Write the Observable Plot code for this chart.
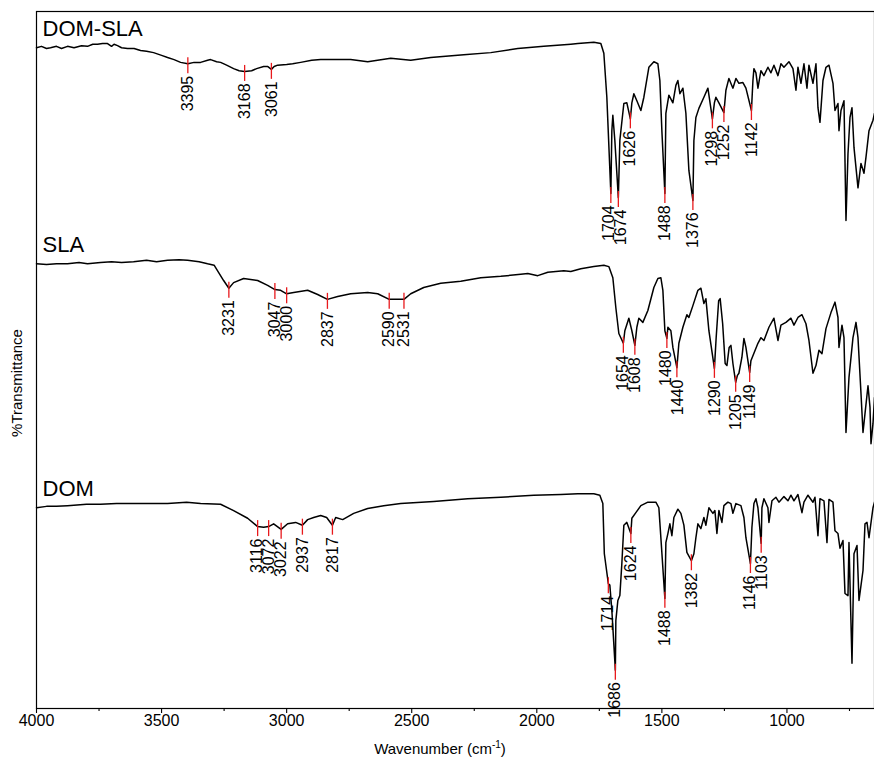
<!DOCTYPE html>
<html>
<head>
<meta charset="utf-8">
<script src="https://cdn.jsdelivr.net/npm/d3@7"></script>
<script src="https://cdn.jsdelivr.net/npm/@observablehq/plot@0.6"></script>
<style>
  body { margin: 0; background: #fff; }
</style>
</head>
<body>
<div id="chart"></div>
<script>
// FTIR spectra, stacked: [wavenumber (cm-1), transmittance (stacked %T units)]
const seriesNames = ["DOM-SLA", "SLA", "DOM"];

const domSlaSpectrum = [[4000,94.8],[3980,95.0],[3960,94.7],[3944,94.8],[3920,95.0],[3900,94.7],[3876,95.0],[3850,94.8],[3820,95.1],[3796,95.0],[3775,95.3],[3756,95.3],[3736,95.4],[3716,95.4],[3700,95.0],[3690,95.3],[3676,95.1],[3660,94.8],[3636,94.7],[3610,94.7],[3584,94.4],[3560,94.3],[3532,94.1],[3500,93.7],[3476,93.4],[3450,93.1],[3424,92.7],[3395,92.5],[3370,92.7],[3344,92.7],[3316,93.0],[3304,93.1],[3280,92.8],[3264,92.7],[3240,92.3],[3212,91.8],[3190,91.5],[3168,91.4],[3140,91.5],[3120,91.8],[3092,92.1],[3075,92.1],[3061,91.7],[3050,92.1],[3036,92.3],[3000,92.4],[2976,92.5],[2944,92.7],[2900,93.0],[2864,93.1],[2820,93.1],[2744,93.1],[2676,92.8],[2584,93.3],[2504,93.0],[2424,93.4],[2292,93.8],[2184,94.1],[2076,94.7],[1972,95.0],[1864,95.3],[1836,95.4],[1772,95.6],[1744,95.4],[1732,94.0],[1720,87.7],[1704,73.9],[1700,82.9],[1696,85.1],[1688,81.5],[1674,73.3],[1668,81.5],[1652,86.8],[1640,86.9],[1626,84.6],[1620,86.9],[1612,88.2],[1600,87.2],[1584,85.8],[1572,87.7],[1552,92.0],[1532,92.8],[1516,92.5],[1508,90.1],[1500,82.9],[1488,73.9],[1484,85.4],[1472,88.0],[1456,86.9],[1444,89.4],[1436,90.1],[1428,88.2],[1416,89.0],[1404,85.4],[1392,77.2],[1376,72.9],[1372,81.5],[1364,84.8],[1352,86.1],[1332,87.7],[1316,89.0],[1298,84.6],[1290,86.9],[1284,87.7],[1272,86.9],[1252,85.5],[1244,88.7],[1232,90.4],[1216,89.0],[1204,90.4],[1192,89.7],[1176,89.8],[1164,89.0],[1142,85.8],[1136,90.1],[1132,91.8],[1124,91.2],[1116,89.0],[1104,91.5],[1092,90.8],[1076,92.0],[1064,91.2],[1052,92.3],[1036,90.8],[1024,92.5],[1012,92.0],[992,92.8],[976,91.8],[964,88.7],[956,92.0],[944,89.7],[932,92.5],[920,89.0],[912,92.3],[896,89.7],[884,92.5],[876,86.2],[868,84.1],[856,90.1],[844,92.0],[832,92.3],[816,89.7],[808,85.8],[796,86.8],[792,82.9],[784,85.8],[772,87.2],[764,70.0],[756,79.6],[748,84.8],[740,86.2],[732,80.5],[716,74.7],[704,78.2],[692,76.8],[684,79.1],[672,82.9],[656,84.4],[650,85.4]];

const slaSpectrum = [[4000,63.8],[3960,63.7],[3920,63.8],[3876,63.8],[3830,64.0],[3796,63.8],[3744,64.0],[3700,64.1],[3660,64.0],[3612,64.1],[3560,64.3],[3520,64.1],[3476,64.3],[3430,64.4],[3396,64.3],[3350,64.1],[3316,63.8],[3290,63.6],[3276,62.8],[3252,61.4],[3231,60.3],[3212,61.1],[3172,61.7],[3116,61.4],[3076,60.7],[3047,60.1],[3024,60.0],[3000,59.5],[2972,59.7],[2916,60.0],[2876,59.4],[2837,58.7],[2796,59.1],[2744,59.5],[2676,59.7],[2636,59.5],[2590,58.7],[2564,58.7],[2531,58.7],[2504,59.5],[2452,60.4],[2384,61.0],[2304,61.3],[2224,61.8],[2144,62.0],[2064,62.3],[2036,62.4],[1996,62.1],[1956,62.6],[1892,62.8],[1864,62.7],[1824,63.1],[1772,63.4],[1732,63.6],[1712,63.4],[1696,61.8],[1684,57.5],[1672,53.8],[1654,52.4],[1648,54.2],[1632,56.0],[1620,54.2],[1608,52.1],[1600,54.7],[1592,56.0],[1576,55.4],[1556,57.1],[1532,60.4],[1516,61.7],[1504,61.8],[1496,60.0],[1488,54.2],[1480,53.1],[1476,54.7],[1464,54.2],[1456,51.8],[1440,48.9],[1432,52.4],[1416,54.7],[1400,56.5],[1392,56.1],[1376,57.8],[1356,60.0],[1344,60.3],[1332,58.1],[1324,58.8],[1312,54.2],[1290,48.8],[1283,53.2],[1273,58.5],[1267,58.8],[1257,55.2],[1247,49.5],[1240,49.2],[1231,51.8],[1224,52.1],[1216,49.5],[1205,46.8],[1198,47.8],[1192,48.1],[1180,50.4],[1172,53.1],[1164,51.8],[1149,48.2],[1144,49.9],[1116,52.4],[1104,53.2],[1092,52.8],[1072,54.7],[1052,56.0],[1036,52.8],[1024,55.0],[1004,55.4],[984,56.0],[972,55.0],[956,56.1],[940,56.5],[924,55.2],[912,52.8],[896,48.1],[884,49.2],[872,51.4],[860,50.9],[844,54.5],[824,56.8],[808,58.3],[796,56.1],[792,51.8],[780,55.0],[772,53.2],[764,39.6],[752,47.5],[736,53.2],[724,55.4],[716,53.2],[704,45.2],[696,39.6],[688,42.3],[676,46.3],[668,43.2],[664,38.0],[656,40.9],[650,44.6]];

const domSpectrum = [[4000,28.8],[3960,29.0],[3920,29.0],[3876,29.1],[3800,29.3],[3744,29.3],[3680,29.4],[3612,29.4],[3540,29.4],[3476,29.4],[3400,29.6],[3344,29.4],[3264,29.3],[3212,28.4],[3156,27.3],[3116,26.1],[3092,26.0],[3072,26.1],[3052,26.5],[3022,25.7],[2996,26.5],[2964,26.7],[2937,26.3],[2916,27.1],[2892,27.4],[2864,27.7],[2840,27.4],[2817,26.3],[2804,27.4],[2776,27.1],[2732,28.0],[2676,28.7],[2612,29.1],[2544,29.4],[2412,29.7],[2276,30.1],[2144,30.3],[2012,30.6],[1904,30.7],[1836,30.8],[1772,30.8],[1748,30.6],[1736,29.4],[1730,22.2],[1714,17.9],[1708,17.7],[1700,14.1],[1686,5.5],[1684,12.6],[1676,15.5],[1668,16.2],[1660,20.8],[1652,26.3],[1640,26.7],[1624,25.1],[1620,27.3],[1604,28.1],[1584,29.1],[1556,29.6],[1524,29.6],[1512,28.8],[1504,24.5],[1488,15.8],[1484,23.8],[1476,25.1],[1468,26.5],[1460,24.8],[1452,27.4],[1436,28.6],[1424,28.0],[1412,26.3],[1400,22.4],[1382,21.2],[1372,22.2],[1364,24.5],[1356,26.5],[1344,25.8],[1332,27.4],[1324,26.3],[1312,28.8],[1296,28.0],[1288,28.4],[1280,25.1],[1272,28.4],[1260,26.7],[1252,29.1],[1236,29.6],[1224,29.4],[1216,28.0],[1204,29.4],[1184,29.1],[1172,27.4],[1164,24.5],[1146,20.8],[1140,26.0],[1132,29.4],[1124,30.1],[1116,28.8],[1103,23.7],[1100,28.8],[1092,30.1],[1076,28.8],[1072,26.7],[1060,29.8],[1044,30.3],[1032,29.6],[1012,30.4],[996,29.8],[984,30.6],[972,29.8],[956,30.7],[940,28.1],[932,29.6],[916,30.6],[896,29.6],[888,30.3],[876,24.8],[868,30.1],[852,29.8],[840,23.8],[832,30.0],[816,29.6],[808,25.5],[796,25.1],[788,23.0],[776,24.1],[768,16.5],[756,16.2],[752,23.8],[740,6.5],[732,22.2],[720,23.4],[712,15.5],[696,19.8],[688,26.5],[680,26.7],[672,24.5],[656,28.8],[650,29.6]];

// Labelled band positions (cm-1)
const domSlaPeaks = [3395, 3168, 3061, 1704, 1674, 1626, 1488, 1376, 1298, 1252, 1142];
const slaPeaks = [3231, 3047, 3000, 2837, 2590, 2531, 1654, 1608, 1480, 1440, 1290, 1205, 1149];
const domPeaks = [3116, 3072, 3022, 2937, 2817, 1714, 1686, 1624, 1488, 1382, 1146, 1103];

const majorTicks = [4000, 3500, 3000, 2500, 2000, 1500, 1000];
const minorTicks = [3750, 3250, 2750, 2250, 1750, 1250, 750];

// ---- layout ----
const W = 874, H = 762;
const M = {top: 11, right: 0, bottom: 54, left: 36};
const xDomain = [4000, 650];
const yDomain = [0, 100];
const pxPerUnit = (H - M.top - M.bottom) / (yDomain[1] - yDomain[0]);
const pxPerWn = (W - M.left - M.right) / (xDomain[0] - xDomain[1]);

const narrow = "'Liberation Sans Narrow', 'Arial Narrow', 'Liberation Sans', Arial, sans-serif";
const regular = "'Liberation Sans', Arial, sans-serif";

const series = [
  {name: seriesNames[0], data: domSlaSpectrum, peaks: domSlaPeaks},
  {name: seriesNames[1], data: slaSpectrum, peaks: slaPeaks},
  {name: seriesNames[2], data: domSpectrum, peaks: domPeaks}
];

const rows = series.flatMap(s => s.data.map(([wn, t]) => ({series: s.name, wn, t})));

// transmittance of a spectrum at a given wavenumber (linear between readings)
function valueAt(data, wn) {
  for (let i = 0; i < data.length - 1; i++) {
    const [w0, t0] = data[i], [w1, t1] = data[i + 1];
    if (wn <= w0 && wn >= w1) return w0 === w1 ? t0 : t0 + (t1 - t0) * (w0 - wn) / (w0 - w1);
  }
  return data[data.length - 1][1];
}

// peak markers: a short red tick through the band and a rotated label below it
const peakRows = [];
for (const s of series) {
  const list = s.peaks
    .map(wn => ({series: s.name, wn, v: valueAt(s.data, wn), shift: 0}))
    .sort((a, b) => b.wn - a.wn);
  // spread labels that would collide side by side
  for (let i = 0; i < list.length - 1; i++) {
    const a = list[i], b = list[i + 1];
    const gap = (a.wn - b.wn) * pxPerWn + b.shift - a.shift;
    if (gap < 12 && Math.abs(a.v - b.v) * pxPerUnit < 30) {
      const d = (12 - gap) / 2;
      a.shift -= d; b.shift += d;
    }
  }
  for (const p of list) {
    p.tickTop = p.v + 6 / pxPerUnit;
    p.tickBottom = p.v - 10 / pxPerUnit;
    p.labelTop = p.v - 12 / pxPerUnit;
    p.textX = p.wn - p.shift / pxPerWn;
    peakRows.push(p);
  }
}

const titleRows = series.map(s => ({name: s.name, wn: s.data[0][0], t: s.data[0][1]}));

const chart = Plot.plot({
  width: W,
  height: H,
  marginTop: M.top,
  marginRight: M.right,
  marginBottom: M.bottom,
  marginLeft: M.left,
  x: {domain: xDomain},
  y: {domain: yDomain, axis: null},
  style: {background: "white", color: "black", fontFamily: regular},
  marks: [
    Plot.frame({stroke: "black", strokeWidth: 1.2}),
    Plot.axisX(minorTicks, {tickSize: 3, tickFormat: () => "", label: null, strokeWidth: 1.1}),
    Plot.axisX(majorTicks, {tickSize: 5, tickPadding: 1, label: null, fontSize: 16,
      fontFamily: narrow, strokeWidth: 1.1, tickFormat: d => String(d)}),
    Plot.line(rows, {x: "wn", y: "t", z: "series", stroke: "black", strokeWidth: 1.5,
      strokeLinejoin: "round"}),
    Plot.ruleX(peakRows, {x: "wn", y1: "tickTop", y2: "tickBottom", stroke: "#e8191c", strokeWidth: 1.3}),
    Plot.text(peakRows, {x: "textX", y: "labelTop", text: d => String(d.wn), rotate: -90,
      textAnchor: "end", lineAnchor: "middle", fontSize: 16, fontFamily: narrow, fill: "black"}),
    Plot.text(titleRows, {x: "wn", y: "t", text: "name", textAnchor: "start", lineAnchor: "bottom",
      dx: 6, dy: -12, fontSize: 22, fontFamily: regular, fill: "black"})
  ]
});

const svg = d3.select(chart);

// y-axis title
svg.append("text")
  .attr("transform", "translate(22,383) rotate(-90)")
  .attr("text-anchor", "middle")
  .attr("font-family", regular)
  .attr("font-size", 15)
  .attr("fill", "black")
  .text("%Transmittance");

// x-axis title with superscript unit
const xTitle = svg.append("text")
  .attr("x", 440).attr("y", 754)
  .attr("text-anchor", "middle")
  .attr("font-family", regular)
  .attr("font-size", 15)
  .attr("fill", "black");
xTitle.append("tspan").text("Wavenumber (cm");
xTitle.append("tspan").attr("dy", -6).attr("font-size", 10).text("-1");
xTitle.append("tspan").attr("dy", 6).text(")");

document.getElementById("chart").appendChild(chart);
</script>
</body>
</html>
